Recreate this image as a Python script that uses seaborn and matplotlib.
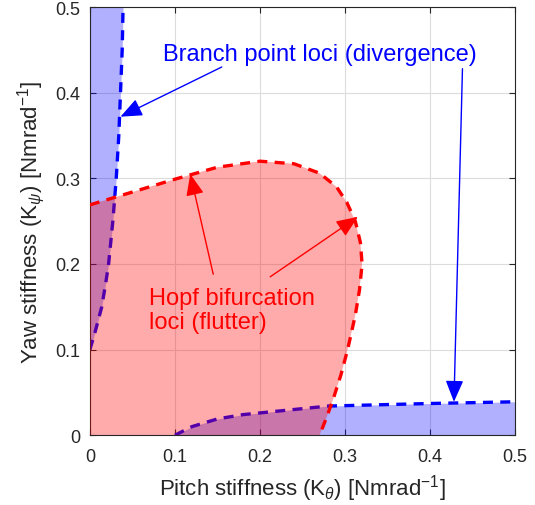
import numpy as np
import pandas as pd
import matplotlib
matplotlib.use("Agg")
import matplotlib.pyplot as plt
import seaborn as sns

# ---- data ----
# Branch point loci (divergence), near-vertical branch: x as function of y
branch_v_y = [0.10, 0.12, 0.15, 0.18, 0.20, 0.25, 0.30, 0.35, 0.40, 0.45, 0.50]
branch_v_x = [0.000, 0.006, 0.014, 0.019, 0.022, 0.027, 0.031, 0.034, 0.036, 0.038, 0.039]
# Branch point loci, near-horizontal branch
branch_h_x = [0.10, 0.12, 0.15, 0.18, 0.21, 0.25, 0.28, 0.32, 0.36, 0.40, 0.45, 0.50]
branch_h_y = [0.000, 0.010, 0.019, 0.024, 0.027, 0.031, 0.034, 0.035, 0.036, 0.037, 0.038, 0.039]
# Hopf bifurcation loci (flutter)
hopf_x = [0.000, 0.030, 0.060, 0.100, 0.150, 0.200, 0.240, 0.270, 0.290, 0.302,
          0.312, 0.318, 0.320, 0.317, 0.312, 0.303, 0.295, 0.286, 0.278, 0.270]
hopf_y = [0.269, 0.278, 0.287, 0.299, 0.313, 0.320, 0.317, 0.306, 0.290, 0.272,
          0.250, 0.225, 0.200, 0.170, 0.140, 0.100, 0.070, 0.042, 0.020, 0.000]

ticks = [0, 0.1, 0.2, 0.3, 0.4, 0.5]
tick_labels = ["0", "0.1", "0.2", "0.3", "0.4", "0.5"]

sns.set_style("whitegrid")
plt.rcParams["font.family"] = ["Liberation Sans", "DejaVu Sans"]
plt.rcParams["mathtext.fontset"] = "custom"
plt.rcParams["mathtext.rm"] = "Liberation Sans"
plt.rcParams["mathtext.it"] = "Liberation Sans:italic"

fig = plt.figure(figsize=(5.35, 5.06), dpi=100)
ax = fig.add_axes([0.168, 0.138, 0.795, 0.846])

RED = "#ff0000"
BLUE = "#0000ff"

# blue fills
ax.fill_betweenx(branch_v_y, 0, branch_v_x, color=BLUE, alpha=0.31, lw=0, zorder=1)
ax.fill_between(branch_h_x, 0, branch_h_y, color=BLUE, alpha=0.31, lw=0, zorder=1)

dv = pd.DataFrame({"x": branch_v_x, "y": branch_v_y})
dh = pd.DataFrame({"x": branch_h_x, "y": branch_h_y})
sns.lineplot(data=dv, x="x", y="y", sort=False, estimator=None, color=BLUE,
             lw=2.4, ls=(0, (3, 2.2)), ax=ax, zorder=2)
sns.lineplot(data=dh, x="x", y="y", sort=False, estimator=None, color=BLUE,
             lw=2.4, ls=(0, (3, 2.2)), ax=ax, zorder=2)

# red fill
ax.fill([0] + hopf_x + [0], [0] + hopf_y + [0], color=RED, alpha=0.33, lw=0, zorder=3)
dr = pd.DataFrame({"x": hopf_x, "y": hopf_y})
sns.lineplot(data=dr, x="x", y="y", sort=False, estimator=None, color=RED,
             lw=2.4, ls=(0, (3, 2.2)), ax=ax, zorder=4)

# annotations
ax.text(0.27, 0.445, "Branch point loci (divergence)", color=BLUE, fontsize=17,
        ha="center", va="center", zorder=6)
arrow_b = dict(arrowstyle="-|>,head_length=0.6,head_width=0.25", color=BLUE, lw=1.0,
               mutation_scale=22, shrinkA=0, shrinkB=0)
ax.annotate("", xy=(0.036, 0.372), xytext=(0.155, 0.43), arrowprops=arrow_b, zorder=6)
ax.annotate("", xy=(0.428, 0.039), xytext=(0.438, 0.428), arrowprops=arrow_b, zorder=6)

ax.text(0.07, 0.146, "Hopf bifurcation\nloci (flutter)", color=RED, fontsize=17,
        ha="left", va="center", linespacing=1.1, zorder=6)
arrow_r = dict(arrowstyle="-|>,head_length=0.6,head_width=0.25", color=RED, lw=1.0,
               mutation_scale=22, shrinkA=0, shrinkB=0)
ax.annotate("", xy=(0.118, 0.305), xytext=(0.145, 0.188), arrowprops=arrow_r, zorder=6)
ax.annotate("", xy=(0.315, 0.255), xytext=(0.212, 0.185), arrowprops=arrow_r, zorder=6)

ax.set_xlim(0, 0.5)
ax.set_ylim(0, 0.5)
ax.set_xticks(ticks)
ax.set_xticklabels(tick_labels)
ax.set_yticks(ticks)
ax.set_yticklabels(tick_labels)
ax.grid(True, color="#dcdcdc", lw=0.8)
ax.set_axisbelow(True)
ax.tick_params(direction="in", length=4, colors="#262626", labelsize=13,
               top=True, right=True, bottom=True, left=True)
ax.tick_params(axis="x", pad=9)
ax.tick_params(axis="y", pad=7)
for s in ax.spines.values():
    s.set_visible(True)
    s.set_color("#262626")
    s.set_linewidth(0.8)

ax.set_xlabel(r"Pitch stiffness (K$_{\theta}$) [Nmrad$^{-1}$]", fontsize=16,
              color="#262626", labelpad=5)
ax.set_ylabel(r"Yaw stiffness (K$_{\psi}$) [Nmrad$^{-1}$]", fontsize=16,
              color="#262626", labelpad=6)

fig.savefig("out.png", dpi=100)
